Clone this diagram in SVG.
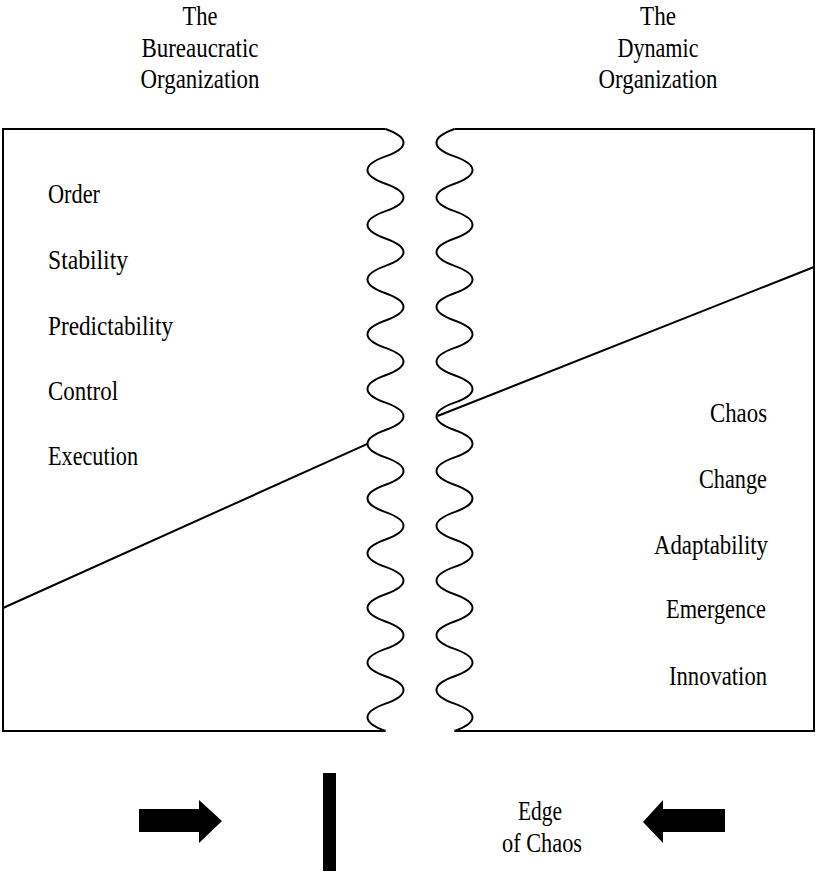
<svg xmlns="http://www.w3.org/2000/svg" xmlns:xlink="http://www.w3.org/1999/xlink" width="817" height="875" viewBox="0 0 817 875">
<style>
.t{font-family:"Liberation Serif","Times New Roman",serif;font-size:27px;fill:#000}
.m{text-anchor:middle}
.e{text-anchor:end}
.ln{fill:none;stroke:#000;stroke-width:2}
.wv{fill:none;stroke:#000;stroke-width:2}
.blk{fill:#000;stroke:none}
</style>
<defs>
<path id="wave" class="wv" d="M385.5 129 c24 8.5 24 18.864 0 27.364 c-24 8.5 -24 18.864 0 27.364 c24 8.5 24 18.864 0 27.364 c-24 8.5 -24 18.864 0 27.364 c24 8.5 24 18.864 0 27.364 c-24 8.5 -24 18.864 0 27.364 c24 8.5 24 18.864 0 27.364 c-24 8.5 -24 18.864 0 27.364 c24 8.5 24 18.864 0 27.364 c-24 8.5 -24 18.864 0 27.364 c24 8.5 24 18.864 0 27.364 c-24 8.5 -24 18.864 0 27.364 c24 8.5 24 18.864 0 27.364 c-24 8.5 -24 18.864 0 27.364 c24 8.5 24 18.864 0 27.364 c-24 8.5 -24 18.864 0 27.364 c24 8.5 24 18.864 0 27.364 c-24 8.5 -24 18.864 0 27.364 c24 8.5 24 18.864 0 27.364 c-24 8.5 -24 18.864 0 27.364 c24 8.5 24 18.864 0 27.364 c-24 8.5 -24 18.864 0 27.364"/>
</defs>
<rect width="817" height="875" fill="#fff"/>

<g id="bureaucratic-title">
<text class="t m" x="200" y="25" textLength="35" lengthAdjust="spacingAndGlyphs">The</text>
<text class="t m" x="200" y="57" textLength="117" lengthAdjust="spacingAndGlyphs">Bureaucratic</text>
<text class="t m" x="200" y="88" textLength="119" lengthAdjust="spacingAndGlyphs">Organization</text>
</g>
<g id="dynamic-title">
<text class="t m" x="658" y="25" textLength="36" lengthAdjust="spacingAndGlyphs">The</text>
<text class="t m" x="658" y="57" textLength="81" lengthAdjust="spacingAndGlyphs">Dynamic</text>
<text class="t m" x="658" y="88" textLength="119" lengthAdjust="spacingAndGlyphs">Organization</text>
</g>

<g id="bureaucratic-box">
<polyline class="ln" points="385.5,129 3,129 3,731 385.5,731"/>
<use xlink:href="#wave"/>
<line class="ln" x1="3" y1="608" x2="368" y2="443.6"/>
<text class="t" x="48" y="203" textLength="52" lengthAdjust="spacingAndGlyphs">Order</text>
<text class="t" x="48" y="269" textLength="80" lengthAdjust="spacingAndGlyphs">Stability</text>
<text class="t" x="48" y="335" textLength="125" lengthAdjust="spacingAndGlyphs">Predictability</text>
<text class="t" x="48" y="400" textLength="70" lengthAdjust="spacingAndGlyphs">Control</text>
<text class="t" x="48" y="465" textLength="90" lengthAdjust="spacingAndGlyphs">Execution</text>
</g>

<g id="dynamic-box">
<polyline class="ln" points="454.5,129 814,129 814,731 454.5,731"/>
<use xlink:href="#wave" transform="translate(840 0) scale(-1 1)"/>
<line class="ln" x1="437.5" y1="416" x2="814" y2="267"/>
<text class="t e" x="767" y="422" textLength="57" lengthAdjust="spacingAndGlyphs">Chaos</text>
<text class="t e" x="767" y="488" textLength="68" lengthAdjust="spacingAndGlyphs">Change</text>
<text class="t e" x="768" y="554" textLength="114" lengthAdjust="spacingAndGlyphs">Adaptability</text>
<text class="t e" x="766" y="618" textLength="100" lengthAdjust="spacingAndGlyphs">Emergence</text>
<text class="t e" x="767" y="685" textLength="98" lengthAdjust="spacingAndGlyphs">Innovation</text>
</g>

<g id="connectors">
<polygon id="arrow-right" class="blk" points="139,809 199,809 199,800 222,821 199,843 199,832 139,832"/>
<rect id="edge-bar" class="blk" x="323" y="773" width="13" height="98"/>
<polygon id="arrow-left" class="blk" points="725,809 663,809 663,800 643,822 663,843 663,832 725,832"/>
</g>

<g id="edge-label">
<text class="t m" x="540" y="820" textLength="44" lengthAdjust="spacingAndGlyphs">Edge</text>
<text class="t m" x="542" y="852" textLength="80" lengthAdjust="spacingAndGlyphs">of Chaos</text>
</g>
</svg>
